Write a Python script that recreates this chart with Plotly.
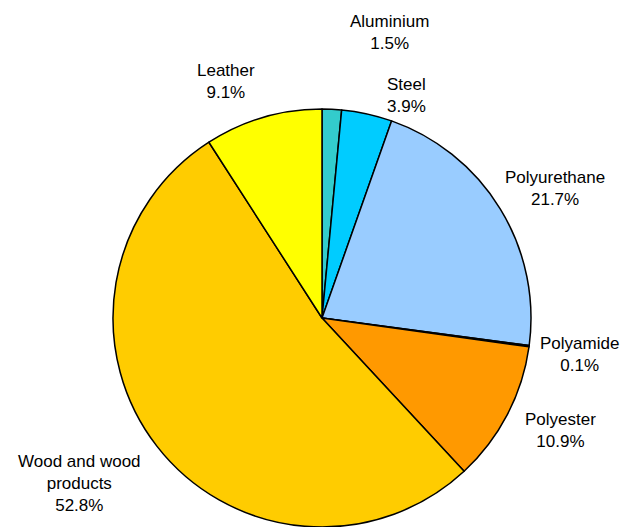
import math
import plotly.graph_objects as go

# ---- data ----
materials = ["Aluminium", "Steel", "Polyurethane", "Polyamide", "Polyester",
             "Wood and wood products", "Leather"]
shares = [1.5, 3.9, 21.7, 0.1, 10.9, 52.8, 9.1]
label_texts = ["Aluminium", "Steel", "Polyurethane", "Polyamide", "Polyester",
               "Wood and wood<br>products", "Leather"]

# ---- style ----
colors = ["#33CCCC", "#00CCFF", "#99CCFF", "#FF9900", "#FF9900", "#FFCC00", "#FFFF00"]
label_radius = [1.398, 1.137, 1.270, 1.230, 1.246, 1.384, 1.218]   # in pie radii
label_angle_nudge = [10.6, 8.3, 2.0, 0.0, -2.8, 3.8, -5.6]          # degrees

OFF = 8  # page body margin
W, H = 628 - OFF, 527 - OFF
cx, cy, R = 322 - OFF, 320 - OFF, 211  # pixel geometry of the pie (figure coords)

fig = go.Figure(go.Pie(
    labels=materials,
    values=shares,
    sort=False,
    direction="clockwise",
    rotation=0,
    marker=dict(colors=colors, line=dict(color="black", width=1.5)),
    textinfo="none",
    hoverinfo="label+percent",
    domain=dict(x=[(cx - R) / W, (cx + R) / W],
                y=[max(0, (H - cy - R) / H), (H - cy + R) / H]),
    showlegend=False,
))

total = sum(shares)
cum = 0.0
annotations = []
for i, v in enumerate(shares):
    mid = (cum + v / 2) / total * 360.0 + label_angle_nudge[i]
    cum += v
    a = math.radians(mid)
    px = cx + label_radius[i] * R * math.sin(a)
    py = cy - label_radius[i] * R * math.cos(a)
    annotations.append(dict(
        x=px / W, y=1 - py / H, xref="paper", yref="paper",
        text=f"{label_texts[i]}<br>{v:.1f}%",
        showarrow=False, xanchor="center", yanchor="middle", align="center",
        font=dict(family="Liberation Sans, Arial, sans-serif", size=17, color="black"),
    ))

fig.update_layout(
    width=W, height=H,
    margin=dict(l=0, r=0, t=0, b=0),
    paper_bgcolor="white", plot_bgcolor="white",
    annotations=annotations,
)

fig.write_html("out.html")
